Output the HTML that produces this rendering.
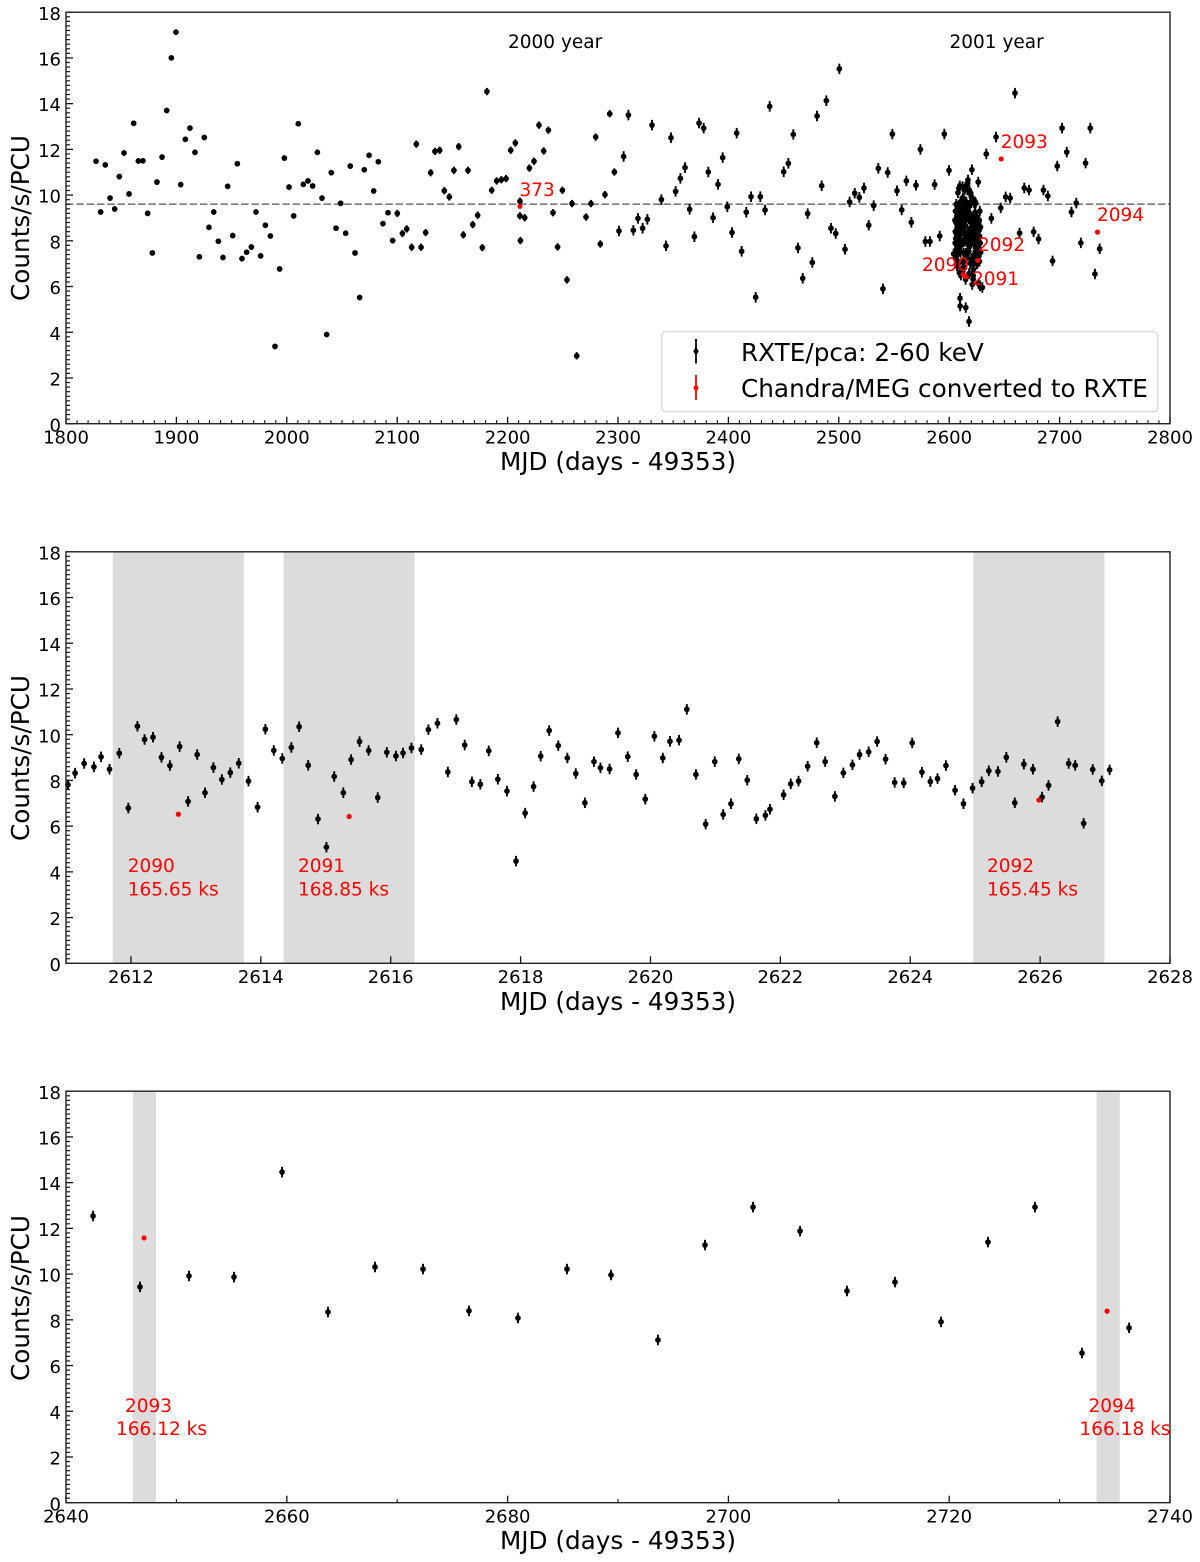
<!DOCTYPE html>
<html lang="en">
<head>
<meta charset="utf-8">
<title>RXTE and Chandra count rate light curves</title>
<style>
html,body{margin:0;padding:0;background:#fff;}
svg{display:block;}
text{font-family:"DejaVu Sans","Liberation Sans",sans-serif;}
</style>
</head>
<body>
<svg id="figure" xmlns="http://www.w3.org/2000/svg" width="1200" height="1562" viewBox="0 0 1200 1562">
  <rect x="0" y="0" width="1200" height="1562" fill="#fff"/>
  <g id="panel-1"></g>
  <g id="panel-2"></g>
  <g id="panel-3"></g>

  <text transform="translate(29,218) rotate(-90)" text-anchor="middle" font-size="24.7" fill="#000">Counts/s/PCU</text>
  <text transform="translate(29,758) rotate(-90)" text-anchor="middle" font-size="24.7" fill="#000">Counts/s/PCU</text>
  <text transform="translate(29,1298) rotate(-90)" text-anchor="middle" font-size="24.7" fill="#000">Counts/s/PCU</text>
  <text x="618" y="470" text-anchor="middle" font-size="24.7" fill="#000">MJD (days - 49353)</text>
  <text x="618" y="1010" text-anchor="middle" font-size="24.7" fill="#000">MJD (days - 49353)</text>
  <text x="618" y="1549" text-anchor="middle" font-size="24.7" fill="#000">MJD (days - 49353)</text>

  <g>
    <rect x="661.7" y="331.7" width="496" height="80" rx="4" ry="4" fill="#fff" fill-opacity="0.85" stroke="#d4d4d4" stroke-width="1.2"/>
    <g>
      <line x1="696" x2="696" y1="339" y2="363.5" stroke="#000" stroke-width="1.8"/>
      <circle cx="696" cy="351.3" r="2.5" fill="#000"/>
      <text x="741" y="361" font-size="24.72" fill="#000">RXTE/pca: 2-60 keV</text>
    </g>
    <g>
      <line x1="696" x2="696" y1="375" y2="400" stroke="#f00" stroke-width="1.8"/>
      <circle cx="696" cy="387.7" r="2.5" fill="#f00"/>
      <text x="741" y="397" font-size="24.72" fill="#000">Chandra/MEG converted to RXTE</text>
    </g>
  </g>
</svg>

<script>
// RXTE/pca campaign outside the dense 2001 monitoring (MJD - 49353, counts/s/PCU)
const mjdCampaign = [1827.2,1831.4,1835.6,1839.9,1844.1,1848.3,1852.5,1857.1,1861.3,1865.5,1869.7,1874.0,1878.2,1882.4,1887.0,1891.2,1895.4,1899.6,1903.9,1908.1,1912.3,1916.8,1920.8,1925.3,1929.5,1933.8,1938.0,1942.2,1946.4,1951.0,1955.2,1959.4,1963.6,1967.9,1972.1,1976.3,1980.6,1985.1,1989.3,1993.5,1997.8,2002.0,2006.2,2010.4,2015.0,2019.2,2023.4,2027.7,2031.9,2036.1,2040.3,2044.6,2048.8,2053.3,2057.5,2061.8,2066.0,2070.2,2074.5,2078.7,2082.9,2087.1,2091.7,2095.9,2100.1,2104.7,2108.6,2113.1,2117.3,2121.6,2125.8,2130.3,2134.2,2138.5,2142.7,2147.2,2151.4,2155.7,2159.9,2164.1,2168.4,2172.9,2177.1,2181.3,2185.6,2190.1,2194.3,2198.6,2202.8,2207.0,2211.2,2211.1,2211.6,2215.5,2219.7,2223.9,2228.4,2232.7,2236.9,2241.1,2245.3,2249.6,2253.8,2258.3,2262.6,2271.0,2275.5,2279.8,2284.0,2288.2,2292.5,2296.7,2300.9,2305.1,2309.4,2313.9,2318.1,2322.3,2326.6,2330.8,2339.3,2343.5,2348.0,2352.2,2356.5,2360.7,2364.9,2369.2,2373.4,2377.6,2381.8,2386.1,2390.6,2394.8,2399.0,2403.3,2407.5,2412.0,2416.2,2420.5,2424.7,2428.9,2433.2,2437.4,2450.1,2454.3,2458.8,2463.0,2467.3,2471.8,2476.0,2480.3,2484.5,2488.7,2492.9,2497.2,2500.5,2505.6,2509.8,2514.4,2518.6,2522.8,2527.1,2531.6,2535.8,2540.0,2544.3,2548.5,2552.7,2557.0,2561.2,2565.7,2569.9,2573.9,2578.4,2582.6,2586.8,2591.4,2595.6,2599.8,2604.0,2633.6,2638.2];
const rateCampaign = [11.48,9.26,11.32,9.87,9.39,10.81,11.84,10.05,13.14,11.49,11.50,9.20,7.47,10.57,11.66,13.70,16.00,17.13,10.46,12.44,12.93,11.87,7.30,12.52,8.59,9.26,7.98,7.27,10.38,8.23,11.37,7.22,7.50,7.73,9.26,7.34,8.68,8.21,3.38,6.77,11.62,10.35,9.09,13.12,10.47,10.62,10.40,11.87,9.87,3.90,10.98,8.55,9.64,8.33,11.27,7.47,5.52,11.11,11.74,10.18,11.46,8.75,9.23,8.01,9.20,8.32,8.52,7.72,12.23,7.72,8.36,10.98,11.91,11.96,10.19,9.92,11.08,12.12,8.26,11.08,8.71,9.12,7.70,14.53,10.21,10.62,10.67,10.72,11.96,12.28,9.73,9.09,8.01,9.01,11.18,11.48,13.06,11.93,12.84,9.23,7.73,10.21,6.29,9.63,2.97,9.04,9.63,12.54,7.86,10.02,13.56,11.01,8.43,11.69,13.50,8.46,8.98,8.55,8.94,13.06,9.80,7.78,12.51,10.16,10.73,11.20,9.38,8.18,13.15,12.93,11.01,9.01,10.47,11.64,9.49,8.36,12.71,7.54,9.25,9.93,5.53,9.93,9.35,13.88,11.02,11.39,12.65,7.69,6.36,9.19,7.05,13.46,10.41,14.13,8.55,8.32,15.52,7.63,9.70,10.08,9.90,10.31,8.68,9.54,11.17,5.90,10.99,12.67,10.19,9.35,10.62,8.81,10.43,12.00,7.97,7.97,10.46,8.21,12.67,11.08,7.43,11.80,8.98];

// Dense monitoring just outside the middle panel's window (only visible in the top panel)
const mjdDenseEdge = [2605.2,2605.4,2605.5,2605.7,2605.9,2606.0,2606.2,2606.4,2606.6,2606.7,2606.9,2607.1,2607.2,2607.4,2607.6,2607.8,2607.9,2608.1,2608.3,2608.4,2608.6,2608.8,2609.0,2609.1,2609.3,2609.5,2609.6,2609.8,2609.9,2610.1,2610.3,2610.4,2610.6,2610.8,2610.9,2627.2,2627.4,2627.5,2627.7,2627.9,2628.1,2628.3,2628.5,2630.0];
const rateDenseEdge = [8.9,7.9,8.4,9.3,8.1,7.2,8.8,9.6,7.6,8.3,9.0,6.9,8.0,9.5,8.6,7.4,10.1,8.2,9.1,7.0,8.7,10.3,9.4,7.8,6.6,8.5,10.4,5.49,5.15,9.7,7.5,8.9,6.5,9.2,8.0,8.9,7.1,8.2,9.3,6.03,7.9,8.6,7.5,5.96];

// Middle panel: RXTE points MJD 2611-2627
const mjdDense = [2611.03,2611.14,2611.28,2611.43,2611.54,2611.67,2611.82,2611.96,2612.10,2612.21,2612.34,2612.47,2612.60,2612.75,2612.88,2613.02,2613.14,2613.27,2613.40,2613.53,2613.66,2613.81,2613.95,2614.07,2614.20,2614.33,2614.47,2614.59,2614.73,2614.88,2615.01,2615.13,2615.27,2615.39,2615.52,2615.66,2615.80,2615.94,2616.08,2616.19,2616.32,2616.47,2616.58,2616.72,2616.88,2617.01,2617.14,2617.25,2617.38,2617.51,2617.65,2617.79,2617.93,2618.07,2618.20,2618.31,2618.44,2618.58,2618.72,2618.85,2618.99,2619.13,2619.23,2619.37,2619.50,2619.65,2619.78,2619.92,2620.06,2620.19,2620.30,2620.44,2620.56,2620.70,2620.85,2620.99,2621.12,2621.24,2621.36,2621.49,2621.63,2621.77,2621.84,2622.05,2622.16,2622.28,2622.42,2622.56,2622.69,2622.84,2622.97,2623.11,2623.22,2623.36,2623.49,2623.62,2623.76,2623.90,2624.03,2624.18,2624.31,2624.42,2624.55,2624.69,2624.82,2624.96,2625.10,2625.21,2625.35,2625.48,2625.61,2625.75,2625.89,2626.03,2626.13,2626.27,2626.44,2626.54,2626.67,2626.81,2626.95,2627.07];
const rateDense = [7.81,8.32,8.74,8.59,9.03,8.49,9.19,6.79,10.37,9.79,9.89,9.01,8.65,9.48,7.08,9.13,7.46,8.56,8.04,8.34,8.75,7.97,6.83,10.24,9.31,8.96,9.44,10.35,8.66,6.31,5.08,8.17,7.46,8.91,9.70,9.31,7.25,9.23,9.07,9.20,9.42,9.35,10.22,10.50,8.37,10.66,9.55,7.94,7.83,9.29,8.05,7.53,4.47,6.57,7.73,9.06,10.18,9.52,8.98,8.30,7.02,8.82,8.55,8.50,10.08,9.04,8.26,7.18,9.93,8.98,9.71,9.76,11.11,8.26,6.09,8.82,6.51,6.98,8.94,8.01,6.32,6.47,6.74,7.37,7.85,7.97,8.62,9.65,8.82,7.30,8.33,8.68,9.13,9.25,9.70,8.93,7.91,7.89,9.64,8.36,7.95,8.08,8.65,7.57,6.98,7.66,7.94,8.42,8.39,9.01,7.02,8.71,8.49,7.27,7.78,10.57,8.74,8.66,6.12,8.48,7.98,8.46];

// Bottom panel: RXTE points MJD 2640-2740
const mjdLate = [2642.45,2646.70,2651.14,2655.22,2659.57,2663.73,2667.99,2672.34,2676.50,2680.94,2685.38,2689.37,2693.62,2697.88,2702.23,2706.49,2710.74,2715.09,2719.26,2723.51,2727.77,2732.03,2736.29];
const rateLate = [12.54,9.44,9.92,9.87,14.46,8.34,10.31,10.22,8.39,8.08,10.22,9.96,7.12,11.27,12.93,11.88,9.26,9.65,7.91,11.40,12.93,6.55,7.65];

// RXTE uncertainty by epoch: errValues[i] applies below errEdges[i]
const errEdges = [2100,2300,2500];
const errValues = [0.12,0.16,0.23,0.23];

// Chandra/MEG converted rates
const obsIds = ["373","2090","2091","2092","2093","2094"];
const mjdChandra = [2211.2,2612.73,2615.36,2625.98,2647.07,2734.3];
const rateChandra = [9.51,6.52,6.42,7.14,11.58,8.38];

// Mean rate and Chandra exposure windows
const meanRate = [9.6];
const bandStart = [2611.72,2614.35,2624.97,2646.05,2733.35];
const bandEnd = [2613.74,2616.37,2626.99,2648.15,2735.45];

// Axis tick labels
const yTickLabels = ["0","2","4","6","8","10","12","14","16","18"];
const xTicksTop = ["1800","1900","2000","2100","2200","2300","2400","2500","2600","2700","2800"];
const xTicksMiddle = ["2612","2614","2616","2618","2620","2622","2624","2626","2628"];
const xTicksBottom = ["2640","2660","2680","2700","2720","2740"];

const NS = "http://www.w3.org/2000/svg";
const AX_LEFT = 66, AX_RIGHT = 1170, Y_MAX = 18;

function node(parent, tag, attrs) {
  const el = document.createElementNS(NS, tag);
  for (const k in attrs) el.setAttribute(k, attrs[k]);
  parent.appendChild(el);
  return el;
}
function errorFor(mjd) {
  for (let i = 0; i < errEdges.length; i++) if (mjd < errEdges[i]) return errValues[i];
  return errValues[errValues.length - 1];
}
function makeAxes(xMin, xMax, top, bottom) {
  return {
    x: v => AX_LEFT + (v - xMin) * (AX_RIGHT - AX_LEFT) / (xMax - xMin),
    y: v => bottom - v * (bottom - top) / Y_MAX,
    xMin, xMax, top, bottom
  };
}
function drawBands(g, ax, start, end) {
  for (let i = 0; i < start.length; i++) {
    if (end[i] < ax.xMin || start[i] > ax.xMax) continue;
    const r = node(g, "rect", {x: ax.x(start[i]), y: ax.top, width: ax.x(end[i]) - ax.x(start[i]), height: ax.bottom - ax.top, fill: "#dcdcdc"});
    
    
  }
}
function drawPoints(g, ax, xs, ys) {
  for (let i = 0; i < xs.length; i++) {
    const px = ax.x(xs[i]), py = ax.y(ys[i]), e = errorFor(xs[i]);
    const bar = node(g, "line", {x1: px, x2: px, y1: ax.y(ys[i] + e), y2: ax.y(ys[i] - e), stroke: "#000", "stroke-width": 1.9});
    
    
    const dot = node(g, "circle", {cx: px, cy: py, r: 2.85, fill: "#000"});
    
    
  }
}
function drawChandra(g, ax) {
  for (let i = 0; i < mjdChandra.length; i++) {
    if (mjdChandra[i] < ax.xMin || mjdChandra[i] > ax.xMax) continue;
    const dot = node(g, "circle", {cx: ax.x(mjdChandra[i]), cy: ax.y(rateChandra[i]), r: 2.6, fill: "#f00"});
    
    
  }
}
function drawAxes(g, ax, xLabels, minorStep) {
  // y ticks
  for (let i = 0; i < yTickLabels.length; i++) {
    const v = Number(yTickLabels[i]);
    const t = node(g, "line", {x1: AX_LEFT, x2: AX_LEFT + 7, y1: ax.y(v), y2: ax.y(v), stroke: "#111", "stroke-width": 1.3});
    
    
    const l = node(g, "text", {x: 61, y: ax.y(v) + 7.6, "text-anchor": "end", "font-size": 18, fill: "#000"});
    l.textContent = yTickLabels[i];
    
    
  }
  for (let v = 0.2; v < Y_MAX - 0.01; v += 0.2) {
    if (Math.abs(v / 2 - Math.round(v / 2)) < 0.01) continue;
    const m = node(g, "line", {x1: AX_LEFT, x2: AX_LEFT + 4, y1: ax.y(v), y2: ax.y(v), stroke: "#111", "stroke-width": 1.2});
    
    
  }
  // x ticks
  for (let i = 0; i < xLabels.length; i++) {
    const v = Number(xLabels[i]);
    const t = node(g, "line", {x1: ax.x(v), x2: ax.x(v), y1: ax.bottom, y2: ax.bottom - 7, stroke: "#111", "stroke-width": 1.3});
    
    
    const l = node(g, "text", {x: ax.x(v), y: ax.bottom + 19.6, "text-anchor": "middle", "font-size": 18, fill: "#000"});
    l.textContent = xLabels[i];
    
    
  }
  if (minorStep) {
    for (let v = ax.xMin + minorStep; v < ax.xMax; v += minorStep) {
      if (xLabels.indexOf(String(v)) >= 0) continue;
      const m = node(g, "line", {x1: ax.x(v), x2: ax.x(v), y1: ax.bottom, y2: ax.bottom - 3.5, stroke: "#111", "stroke-width": 1.1});
      
      
    }
  }
  const frame = node(g, "rect", {x: AX_LEFT, y: ax.top, width: AX_RIGHT - AX_LEFT, height: ax.bottom - ax.top, fill: "none", stroke: "#222", "stroke-width": 1.4});
  
  
}
function note(g, x, y, str, fill, name) {
  const t = node(g, "text", {x: x, y: y, "font-size": 18.5, fill: fill});
  t.textContent = str;
  
  
}

// Top panel
const g1 = document.getElementById("panel-1");
const ax1 = makeAxes(1800, 2800, 12.2, 423.7);
const mean = node(g1, "line", {x1: AX_LEFT, x2: AX_RIGHT, y1: ax1.y(meanRate[0]), y2: ax1.y(meanRate[0]), stroke: "#7a7a7a", "stroke-width": 1.6, "stroke-dasharray": "7.5 2.8"});


drawPoints(g1, ax1, mjdCampaign, rateCampaign);
drawPoints(g1, ax1, mjdDenseEdge, rateDenseEdge);
drawPoints(g1, ax1, mjdDense, rateDense);
drawPoints(g1, ax1, mjdLate, rateLate);
drawChandra(g1, ax1);
drawAxes(g1, ax1, xTicksTop, 10);
note(g1, 508, 48, "2000 year", "#000", "year-label-2000");
note(g1, 949.5, 48, "2001 year", "#000", "year-label-2001");
note(g1, 519.5, 196, "373", "#f00", "obs-label-373");
note(g1, 922, 271, "2090", "#f00", "obs-label-2090");
note(g1, 972, 285, "2091", "#f00", "obs-label-2091");
note(g1, 978, 251, "2092", "#f00", "obs-label-2092");
note(g1, 1000.7, 148, "2093", "#f00", "obs-label-2093");
note(g1, 1097, 221, "2094", "#f00", "obs-label-2094");

// Middle panel
const g2 = document.getElementById("panel-2");
const ax2 = makeAxes(2611, 2628, 551.8, 963.3);
drawBands(g2, ax2, bandStart.slice(0, 3), bandEnd.slice(0, 3));
drawPoints(g2, ax2, mjdDense, rateDense);
drawChandra(g2, ax2);
drawAxes(g2, ax2, xTicksMiddle, 0);
note(g2, 127.7, 872, "2090", "#f00", "obs-label-2090");
note(g2, 127.7, 895.5, "165.65 ks", "#f00", "exposure-label-2090");
note(g2, 298, 872, "2091", "#f00", "obs-label-2091");
note(g2, 298, 895.5, "168.85 ks", "#f00", "exposure-label-2091");
note(g2, 987, 872, "2092", "#f00", "obs-label-2092");
note(g2, 987, 895.5, "165.45 ks", "#f00", "exposure-label-2092");

// Bottom panel
const g3 = document.getElementById("panel-3");
const ax3 = makeAxes(2640, 2740, 1091.2, 1502.7);
drawBands(g3, ax3, bandStart.slice(3), bandEnd.slice(3));
drawPoints(g3, ax3, mjdLate, rateLate);
drawChandra(g3, ax3);
drawAxes(g3, ax3, xTicksBottom, 10);
note(g3, 125, 1412, "2093", "#f00", "obs-label-2093");
note(g3, 116, 1435, "166.12 ks", "#f00", "exposure-label-2093");
note(g3, 1088.5, 1412, "2094", "#f00", "obs-label-2094");
note(g3, 1079.5, 1435, "166.18 ks", "#f00", "exposure-label-2094");
</script>
</body>
</html>
